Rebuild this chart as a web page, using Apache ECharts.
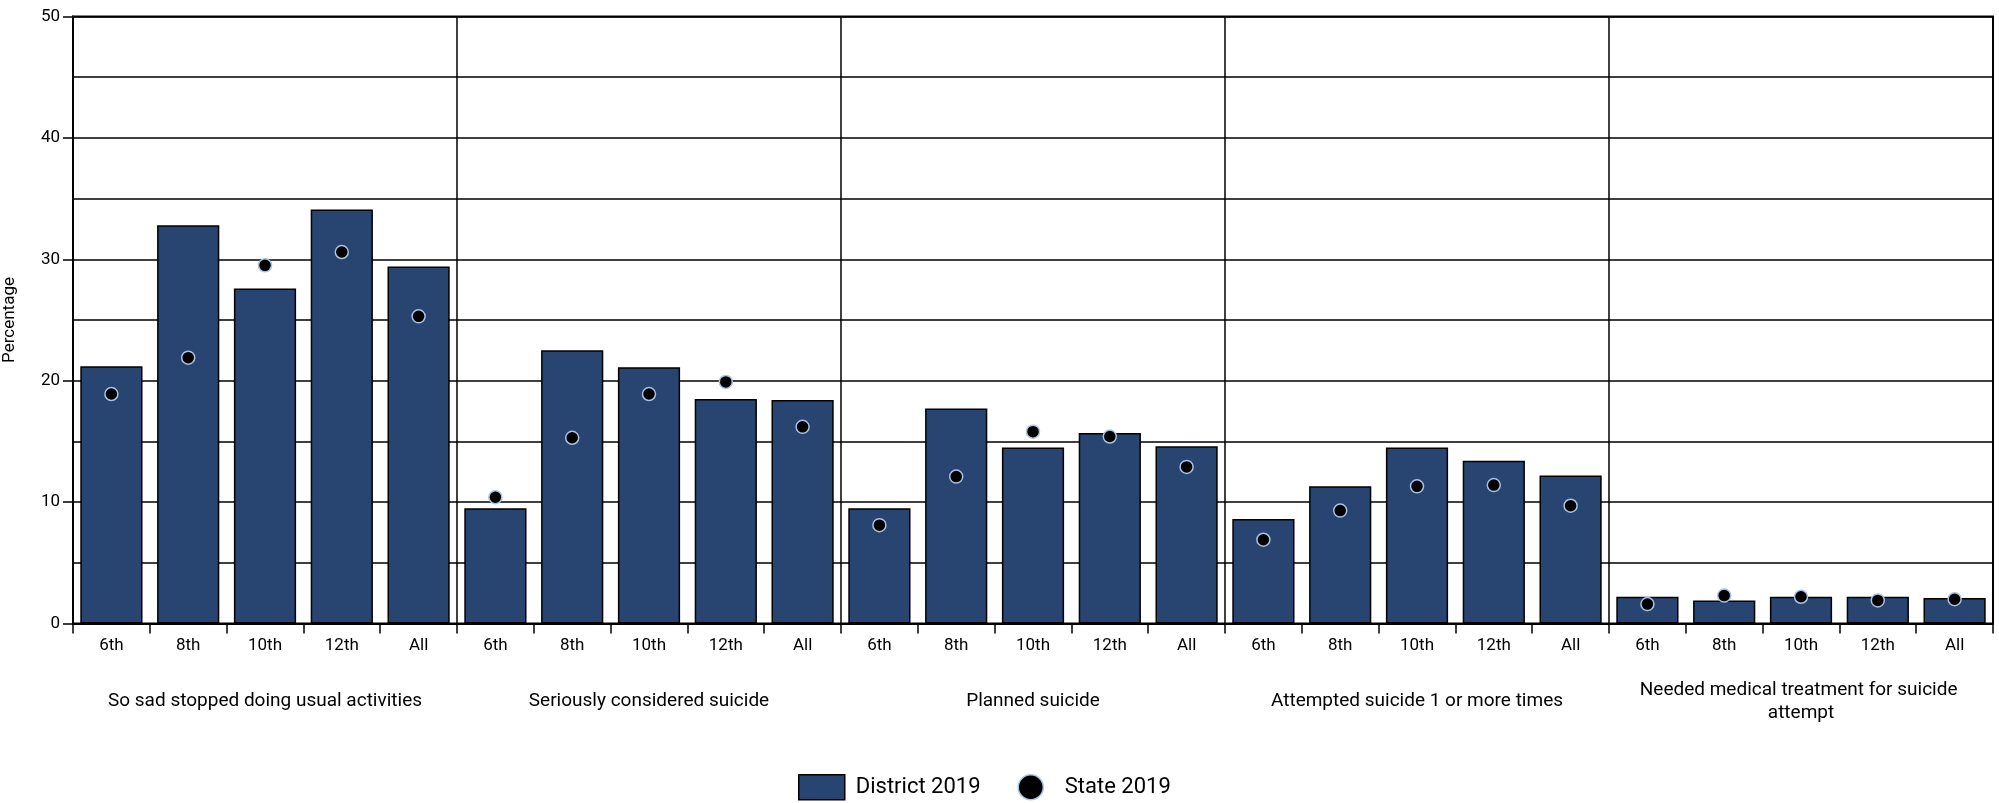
<!DOCTYPE html>
<html>
<head>
<meta charset="utf-8">
<script src="https://cdn.jsdelivr.net/npm/echarts@6/dist/echarts.min.js"></script>
<style>html,body{margin:0;padding:0;background:#fff}#c{width:1999px;height:803px}</style>
</head>
<body>
<div id="c"></div>
<script>
const grades = ['6th', '8th', '10th', '12th', 'All'];
const groups = [
  'So sad stopped doing usual activities',
  'Seriously considered suicide',
  'Planned suicide',
  'Attempted suicide 1 or more times',
  'Needed medical treatment for suicide attempt'
];
const district2019 = [
  21.2, 32.8, 27.6, 34.1, 29.4,
  9.5, 22.5, 21.1, 18.5, 18.4,
  9.5, 17.7, 14.5, 15.7, 14.6,
  8.6, 11.3, 14.5, 13.4, 12.2,
  2.2, 1.9, 2.2, 2.2, 2.1
];
const state2019 = [
  18.9, 21.9, 29.5, 30.6, 25.3,
  10.4, 15.3, 18.9, 19.9, 16.2,
  8.1, 12.1, 15.8, 15.4, 12.9,
  6.9, 9.3, 11.3, 11.4, 9.7,
  1.6, 2.3, 2.2, 1.9, 2.0
];
const yTicks = [0, 10, 20, 30, 40, 50];

const FONT = "Roboto, 'Noto Sans', sans-serif";
const cats = [];
groups.forEach((g, gi) => grades.forEach((gr, i) => cats.push(gr + '|' + gi)));

const chart = echarts.init(document.getElementById('c'), null, {renderer: 'canvas'});
chart.setOption({
  animation: false,
  textStyle: {fontFamily: FONT},
  grid: {left: 73, right: 6, top: 16.5, bottom: 179.5, show: true, borderColor: '#000', borderWidth: 2,
    containLabel: false, outerBoundsMode: 'none'},
  legend: {
    left: 798, top: 774, padding: 0,
    itemWidth: 46, itemHeight: 25, itemGap: 37,
    textStyle: {fontSize: 22, color: '#000', fontFamily: FONT, padding: [0, 0, 0, 6]},
    data: [
      {name: 'District 2019', icon: 'rect', itemStyle: {color: '#274570', borderColor: '#000', borderWidth: 1.5}},
      {name: 'State 2019', icon: 'circle', itemStyle: {color: '#000', borderColor: '#a9c3e3', borderWidth: 1.5}}
    ]
  },
  xAxis: [
    {
      type: 'category', data: cats, gridIndex: 0, position: 'bottom',
      axisLine: {show: true, lineStyle: {color: '#000', width: 2}},
      axisTick: {show: true, length: 10, interval: 0, lineStyle: {color: '#000', width: 1.5}},
      axisLabel: {interval: 0, margin: 14, fontSize: 17, color: '#000', fontFamily: FONT,
        formatter: v => v.split('|')[0]},
      splitLine: {show: false}
    },
    {
      type: 'category', data: groups, gridIndex: 0, position: 'bottom',
      axisLine: {show: false}, axisTick: {show: false},
      axisLabel: {interval: 0, margin: 78, fontSize: 19, color: '#000', fontFamily: FONT,
        verticalAlign: 'middle', width: 345, overflow: 'break', lineHeight: 23},
      splitLine: {show: true, interval: 0, lineStyle: {color: '#000', width: 1.5}}
    }
  ],
  yAxis: {
    type: 'value', min: yTicks[0], max: yTicks[yTicks.length - 1], interval: 10,
    name: 'Percentage', nameLocation: 'middle', nameGap: 55, nameRotate: 90,
    nameTextStyle: {fontSize: 17, color: '#000', fontFamily: FONT},
    axisLine: {show: true, lineStyle: {color: '#000', width: 2}},
    axisTick: {show: true, length: 10, lineStyle: {color: '#000', width: 1.5}},
    axisLabel: {margin: 13, fontSize: 17, color: '#000', fontFamily: FONT},
    splitLine: {show: true, lineStyle: {color: '#000', width: 1.5}},
    minorTick: {show: false, splitNumber: 2},
    minorSplitLine: {show: true, lineStyle: {color: '#000', width: 1.5}}
  },
  series: [
    {
      name: 'District 2019', type: 'bar', xAxisIndex: 0, data: district2019,
      barCategoryGap: '19%',
      itemStyle: {color: '#274570', borderColor: '#000', borderWidth: 1.5}
    },
    {
      name: 'State 2019', type: 'scatter', xAxisIndex: 0, data: state2019,
      symbol: 'circle', symbolSize: 13, z: 5,
      itemStyle: {color: '#000', borderColor: '#a9c3e3', borderWidth: 1.5, opacity: 1}
    }
  ]
});
</script>
</body>
</html>
